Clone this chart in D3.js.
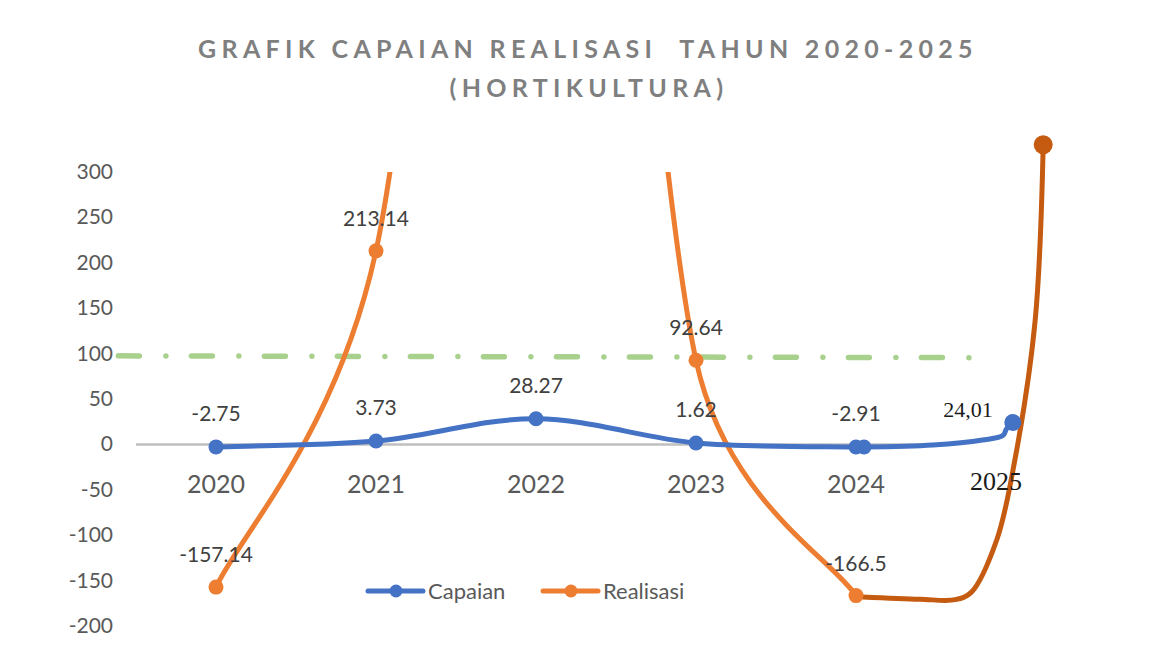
<!DOCTYPE html>
<html>
<head>
<meta charset="utf-8">
<script src="https://cdn.jsdelivr.net/npm/d3@7"></script>
<style>
  body { margin: 0; background: #fff; }
</style>
</head>
<body>
<div class="canvas"></div>
<script>
// data
const years = [2020, 2021, 2022, 2023, 2024];
const capaian = [-2.75, 3.73, 28.27, 1.62, -2.91];
const realisasi = [-157.14, 213.14, 1470, 92.64, -166.5]; // 2022 runs off the top
const yTicks = [300, 250, 200, 150, 100, 50, 0, -50, -100, -150, -200];

// hand-drawn 2025 additions: [year position, value]
const capaianExt = [[2024.05, -2.91], [2024.48, -0.7], [2024.79, 4.8], [2024.92, 10], [2024.94, 17], [2024.98, 24.01]];
const realisasiExt = [[2024.04, -168], [2024.4, -170.5], [2024.62, -171], [2024.72, -163], [2024.88, -105], [2024.99, -20], [2025.12, 137], [2025.17, 330]];
const target = [[2019.39, 97.5], [2024.76, 95.5]];

const width = 1161;
const height = 646;

const svg = d3
  .select(".canvas")
  .append("svg")
  .attr("width", width)
  .attr("height", height)
  .style("font-family", "Lato, 'Open Sans', sans-serif");

const xScale = d3.scaleLinear().domain([2019.5, 2024.5]).range([136, 936]);
const yScale = d3.scaleLinear().domain([-200, 300]).range([626, 172]);

// excel style smoothed line: 1/6 tangents, capped at half the segment length
function excelSmooth(values) {
  const pts = values.map((d, i) => [xScale(years[i]), yScale(d)]);
  const p = d3.path();
  p.moveTo(pts[0][0], pts[0][1]);
  for (let i = 0; i < pts.length - 1; i++) {
    const p0 = pts[Math.max(i - 1, 0)];
    const p1 = pts[i];
    const p2 = pts[i + 1];
    const p3 = pts[Math.min(i + 2, pts.length - 1)];
    const half = Math.hypot(p2[0] - p1[0], p2[1] - p1[1]) / 2;
    const cap = (t) => {
      const l = Math.hypot(t[0], t[1]);
      return l > half ? [(t[0] * half) / l, (t[1] * half) / l] : t;
    };
    const t1 = cap([(p2[0] - p0[0]) / 6, (p2[1] - p0[1]) / 6]);
    const t2 = cap([(p3[0] - p1[0]) / 6, (p3[1] - p1[1]) / 6]);
    p.bezierCurveTo(p1[0] + t1[0], p1[1] + t1[1], p2[0] - t2[0], p2[1] - t2[1], p2[0], p2[1]);
  }
  return p.toString();
}

// title
svg
  .append("text")
  .text("GRAFIK CAPAIAN REALISASI  TAHUN 2020-2025")
  .attr("x", 588)
  .attr("y", 58)
  .attr("text-anchor", "middle")
  .attr("fill", "#7f7f7f")
  .attr("font-weight", "bold")
  .attr("font-size", 25)
  .attr("letter-spacing", 5.3)
  .style("white-space", "pre");

svg
  .append("text")
  .text("(HORTIKULTURA)")
  .attr("x", 589)
  .attr("y", 97)
  .attr("text-anchor", "middle")
  .attr("fill", "#7f7f7f")
  .attr("font-weight", "bold")
  .attr("font-size", 25)
  .attr("letter-spacing", 5.3);

// y tick labels
svg
  .selectAll(".ytick")
  .data(yTicks)
  .enter()
  .append("text")
  .attr("class", "ytick")
  .text((d) => d)
  .attr("x", 113)
  .attr("y", (d) => yScale(d) + 7)
  .attr("text-anchor", "end")
  .attr("fill", "#595959")
  .attr("font-size", 21);

// zero line
svg
  .append("line")
  .attr("x1", xScale(2019.5))
  .attr("x2", xScale(2024.5))
  .attr("y1", yScale(0))
  .attr("y2", yScale(0))
  .attr("stroke", "#bfbfbf")
  .attr("stroke-width", 2.5);

// category labels
svg
  .selectAll(".xtick")
  .data(years)
  .enter()
  .append("text")
  .attr("class", "xtick")
  .text((d) => d)
  .attr("x", (d) => xScale(d))
  .attr("y", 493)
  .attr("text-anchor", "middle")
  .attr("fill", "#595959")
  .attr("font-size", 25);

// target line (dash dot)
const lineXY = d3
  .line()
  .x((d) => xScale(d[0]))
  .y((d) => yScale(d[1]));

svg
  .append("path")
  .attr("d", lineXY(target))
  .attr("fill", "none")
  .attr("stroke", "#a9d18e")
  .attr("stroke-width", 5.5)
  .attr("stroke-linecap", "round")
  .attr("stroke-dasharray", "21 26.5 0 25.5");

svg
  .append("clipPath")
  .attr("id", "plotClip")
  .append("rect")
  .attr("x", 0)
  .attr("y", yScale(300))
  .attr("width", width)
  .attr("height", yScale(-200) - yScale(300) + 20);

const extLine = d3
  .line()
  .x((d) => xScale(d[0]))
  .y((d) => yScale(d[1]))
  .curve(d3.curveCatmullRom.alpha(0.5));

// hand-drawn realisasi extension
svg
  .append("path")
  .attr("d", extLine(realisasiExt))
  .attr("fill", "none")
  .attr("stroke", "#c55a11")
  .attr("stroke-width", 5)
  .attr("stroke-linecap", "round");

svg
  .append("circle")
  .attr("cx", xScale(realisasiExt[realisasiExt.length - 1][0]))
  .attr("cy", yScale(realisasiExt[realisasiExt.length - 1][1]))
  .attr("r", 9.5)
  .attr("fill", "#c55a11");

// realisasi
svg
  .append("path")
  .attr("d", excelSmooth(realisasi))
  .attr("clip-path", "url(#plotClip)")
  .attr("fill", "none")
  .attr("stroke", "#ed7d31")
  .attr("stroke-width", 5);

svg
  .selectAll(".rdot")
  .data(realisasi.filter((d) => d <= 300))
  .enter()
  .append("circle")
  .attr("class", "rdot")
  .attr("cx", (d) => xScale(years[realisasi.indexOf(d)]))
  .attr("cy", (d) => yScale(d))
  .attr("r", 7.5)
  .attr("fill", "#ed7d31");

// capaian
svg
  .append("path")
  .attr("d", excelSmooth(capaian))
  .attr("fill", "none")
  .attr("stroke", "#4472c4")
  .attr("stroke-width", 5);

svg
  .append("path")
  .attr("d", extLine(capaianExt))
  .attr("fill", "none")
  .attr("stroke", "#4472c4")
  .attr("stroke-width", 5)
  .attr("stroke-linecap", "round");

svg
  .selectAll(".cdot")
  .data(capaian)
  .enter()
  .append("circle")
  .attr("class", "cdot")
  .attr("cx", (d, i) => xScale(years[i]))
  .attr("cy", (d) => yScale(d))
  .attr("r", 7.5)
  .attr("fill", "#4472c4");

svg
  .append("circle")
  .attr("cx", xScale(capaianExt[0][0]))
  .attr("cy", yScale(capaianExt[0][1]))
  .attr("r", 7.5)
  .attr("fill", "#4472c4");

svg
  .append("circle")
  .attr("cx", xScale(capaianExt[capaianExt.length - 1][0]))
  .attr("cy", yScale(capaianExt[capaianExt.length - 1][1]))
  .attr("r", 8.5)
  .attr("fill", "#4472c4");

// data labels
svg
  .selectAll(".clabel")
  .data(capaian)
  .enter()
  .append("text")
  .attr("class", "clabel")
  .text((d) => d)
  .attr("x", (d, i) => xScale(years[i]))
  .attr("y", (d) => yScale(d) - 26)
  .attr("text-anchor", "middle")
  .attr("fill", "#404040")
  .attr("font-size", 21);

svg
  .selectAll(".rlabel")
  .data(realisasi.filter((d) => d <= 300))
  .enter()
  .append("text")
  .attr("class", "rlabel")
  .text((d) => d)
  .attr("x", (d) => xScale(years[realisasi.indexOf(d)]))
  .attr("y", (d) => yScale(d) - 25)
  .attr("text-anchor", "middle")
  .attr("fill", "#404040")
  .attr("font-size", 21);

// typed-in 2025 texts
svg
  .append("text")
  .text("24,01")
  .attr("x", xScale(2024.7))
  .attr("y", 417)
  .attr("text-anchor", "middle")
  .attr("fill", "#1a1a1a")
  .attr("font-family", "'Liberation Serif', serif")
  .attr("font-size", 22);

svg
  .append("text")
  .text("2025")
  .attr("x", xScale(2024.875))
  .attr("y", 490)
  .attr("text-anchor", "middle")
  .attr("fill", "#1a1a1a")
  .attr("font-family", "'Liberation Serif', serif")
  .attr("font-size", 26);

// legend
const legend = [
  { name: "Capaian", color: "#4472c4", x: 368 },
  { name: "Realisasi", color: "#ed7d31", x: 543 },
];

const legendItem = svg
  .selectAll(".legend")
  .data(legend)
  .enter()
  .append("g")
  .attr("class", "legend")
  .attr("transform", (d) => `translate(${d.x},591)`);

legendItem
  .append("line")
  .attr("x1", 0)
  .attr("x2", 55)
  .attr("stroke", (d) => d.color)
  .attr("stroke-width", 5)
  .attr("stroke-linecap", "round");

legendItem
  .append("circle")
  .attr("cx", 28)
  .attr("r", 6.5)
  .attr("fill", (d) => d.color);

legendItem
  .append("text")
  .text((d) => d.name)
  .attr("x", 60)
  .attr("y", 8)
  .attr("fill", "#595959")
  .attr("font-size", 22);
</script>
</body>
</html>
